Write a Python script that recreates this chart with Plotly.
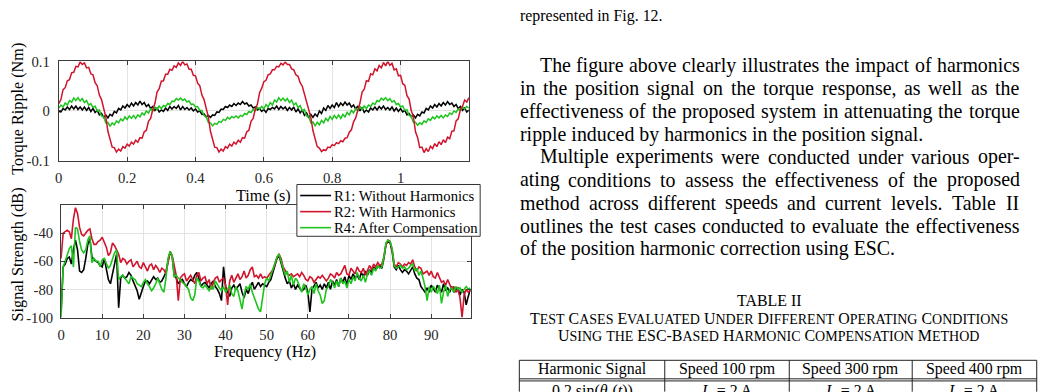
import plotly.graph_objects as go

FIG_W, FIG_H = 1043, 392

# ---------------- data ----------------
time_step_s = 0.00625
time_s = [round(i * time_step_s, 5) for i in range(193)]

# torque ripple in milli-Nm
torque_r1_mNm = [
    -1, -2, 5, 2, 8, 3, 10, 4, 10, 3, 8, 2, 8, 1, 7, -1, 5, -3, 1, -8, -5, -13, -8, -14, -7, -10, -1, -4, 5, 2,
    10, 6, 13, 8, 16, 10, 17, 12, 20, 13, 17, 9, 13, 5, 9, 1, 6, -2,
    2, -1, 6, 1, 9, 4, 9, 5, 11, 2, 9, 3, 7, 2, 6, 0, 4, -2, 0, -7, -6, -12, -9, -13, -8, -9, -2, -3, 4, 3,
    9, 7, 12, 9, 15, 11, 16, 13, 19, 14, 16, 10, 12, 6, 8, 2, 5, -1,
    3, -3, 5, 3, 7, 4, 10, 3, 9, 4, 8, 1, 7, 2, 8, -2, 4, -4, 2, -9, -4, -14, -7, -13, -6, -11, 0, -5, 6, 1,
    11, 5, 12, 7, 17, 9, 16, 11, 18, 12, 16, 8, 12, 4, 10, 0, 7, -3,
    2, -2, 6, 2, 8, 2, 9, 4, 10, 3, 7, 2, 8, 0, 6, -1, 5, -2, 1, -8, -5, -12, -8, -14, -7, -10, -2, -4, 5, 2,
    10, 6, 13, 8, 15, 10, 17, 12, 19, 13, 16, 9, 13, 5, 9, 1, 6, -2,
    2]
torque_r2_mNm = [
    15, 23, 43, 47, 61, 63, 77, 78, 90, 89, 99, 94,
    97, 87, 88, 75, 73, 57, 51, 32, 23, 2, -12, -41, -55, -73, -74, -83, -77, -81, -72, -75, -67, -71, -63, -67,
    -59, -63, -54, -55, -42, -39, -21, -15,
    3, 15, 38, 45, 60, 61, 74, 74, 84, 82, 91, 88, 97, 92, 100, 93, 95, 84, 84, 72, 71, 56, 51, 32, 23, 2,
    -12, -41, -55, -73, -74, -83, -77, -81, -72, -75, -67, -71, -63, -67, -59, -63, -54, -55, -42, -39, -21, -15,
    4, 14, 37, 46, 59, 62, 73, 75, 83, 83, 90, 89, 96, 93, 99, 94, 94, 85, 83, 73, 70, 57, 50, 33, 22, 3,
    -13, -40, -56, -72, -75, -82, -78, -80, -73, -74, -68, -70, -64, -66, -60, -62, -55, -54, -43, -38, -22, -14,
    2, 16, 38, 44, 61, 60, 75, 73, 85, 81, 92, 87, 98, 91, 100, 92, 96, 83, 85, 71, 72, 55, 52, 31, 24, 1,
    -11, -42, -54, -74, -73, -84, -76, -82, -71, -76, -66, -72, -62, -68, -58, -64, -53, -56, -41, -40, -20, -16,
    3, 9, 22, 18, 27]
torque_r4_mNm = [
    6, 12, 8, 16, 12, 21, 18, 26, 21, 27, 20, 25, 17, 21, 12, 15, 7, 10, 0, 2, -10, -11, -24, -23, -31, -24,
    -28, -20, -24, -16, -20, -12, -17, -10, -15, -9, -15, -8, -12, -4, -8, 0, -4, 4, 0, 8, 3, 10,
    5, 11, 9, 15, 13, 20, 19, 25, 22, 26, 21, 24, 18, 20, 13, 14, 8, 9, 1, 1, -9, -12, -23, -24, -30, -25,
    -27, -21, -23, -17, -19, -13, -16, -11, -14, -10, -14, -9, -11, -5, -7, -1, -3, 3, 1, 7, 4, 9,
    4, 13, 8, 17, 12, 22, 18, 27, 21, 26, 20, 25, 17, 22, 12, 16, 7, 11, 0, 3, -10, -10, -24, -22, -30, -23,
    -28, -19, -24, -15, -20, -11, -17, -9, -15, -8, -15, -7, -12, -3, -8, 1, -4, 5, 0, 9, 3, 10,
    5, 12, 9, 16, 13, 21, 19, 26, 22, 27, 21, 25, 18, 21, 13, 15, 8, 10, 1, 2, -9, -11, -23, -23, -29, -24,
    -27, -20, -23, -16, -19, -12, -16, -10, -14, -9, -14, -8, -11, -4, -7, 0, -3, 4, 1, 8, 4, 9,
    6]

freq_step_hz = 0.5
freq_hz = [i * freq_step_hz for i in range(200)]

spec_r1_db = [
    -96, -64, -62, -58, -57, -62, -52, -45, -52, -67, -68, -66, -58, -48, -44, -57, -59, -60, -61, -63,
    -64, -58, -66, -73, -76, -70, -62, -55, -93, -72, -70, -72, -71, -68, -70, -74, -78, -81, -87, -82,
    -78, -74, -74, -76, -73, -71, -73, -72, -75, -74, -71, -68, -60, -54, -56, -70, -72, -76, -74, -73,
    -76, -78, -75, -73, -74, -70, -68, -72, -78, -76, -75, -77, -79, -76, -74, -78, -80, -83, -88, -64,
    -78, -82, -85, -79, -77, -80, -78, -76, -82, -86, -80, -83, -78, -75, -80, -77, -75, -78, -76, -77,
    -78, -75, -73, -68, -63, -58, -56, -62, -68, -72, -76, -74, -79, -76, -80, -77, -79, -81, -80, -77,
    -82, -96, -80, -77, -75, -79, -77, -80, -76, -79, -75, -80, -74, -77, -73, -78, -72, -75, -71, -77,
    -70, -73, -69, -72, -70, -73, -68, -71, -67, -70, -66, -68, -64, -66, -64, -63, -65, -58, -48, -46,
    -47, -53, -64, -66, -63, -66, -68, -66, -67, -69, -66, -64, -69, -72, -73, -78, -80, -82, -79, -82,
    -77, -80, -82, -77, -80, -82, -76, -81, -79, -82, -78, -82, -80, -79, -84, -80, -82, -91, -85, -80]
spec_r2_db = [
    -58, -40, -39, -38, -39, -44, -30, -22, -26, -36, -41, -42, -40, -38, -37, -44, -48, -48, -46, -45,
    -43, -46, -50, -56, -54, -47, -49, -52, -55, -61, -58, -59, -62, -60, -59, -64, -62, -60, -64, -65,
    -61, -64, -67, -63, -62, -66, -63, -65, -68, -65, -66, -69, -60, -53, -56, -64, -70, -88, -72, -70,
    -69, -74, -72, -70, -73, -76, -70, -68, -74, -72, -71, -76, -73, -80, -75, -72, -71, -75, -73, -72,
    -77, -91, -74, -70, -75, -72, -69, -73, -71, -67, -72, -70, -66, -64, -71, -70, -72, -69, -72, -71,
    -72, -70, -68, -66, -62, -57, -55, -58, -64, -67, -69, -70, -69, -71, -70, -69, -71, -68, -70, -73,
    -74, -71, -72, -75, -73, -71, -72, -70, -72, -74, -72, -69, -70, -72, -68, -70, -69, -66, -63, -69,
    -70, -65, -67, -69, -64, -67, -68, -65, -70, -67, -63, -66, -62, -64, -61, -63, -62, -57, -48, -45,
    -46, -52, -62, -64, -61, -62, -64, -62, -63, -61, -62, -59, -64, -67, -64, -65, -69, -68, -67, -70,
    -67, -71, -72, -68, -71, -75, -74, -77, -73, -76, -80, -78, -82, -80, -86, -100, -84, -80, -82, -81]
spec_r4_db = [
    -100, -64, -60, -56, -51, -49, -64, -36, -37, -46, -52, -54, -52, -45, -42, -61, -58, -60, -60, -64,
    -59, -58, -62, -65, -63, -58, -54, -52, -73, -71, -70, -72, -74, -76, -71, -72, -73, -76, -77, -78,
    -75, -73, -76, -78, -81, -79, -76, -72, -76, -80, -82, -72, -58, -53, -56, -71, -70, -72, -73, -75,
    -76, -78, -80, -86, -88, -84, -72, -74, -78, -79, -77, -79, -81, -78, -80, -74, -77, -79, -81, -78,
    -82, -80, -77, -83, -85, -78, -81, -88, -94, -84, -78, -80, -76, -82, -86, -90, -94, -96, -84, -76,
    -72, -74, -70, -66, -62, -57, -55, -60, -65, -70, -67, -75, -70, -77, -72, -74, -78, -82, -76, -79,
    -84, -80, -78, -83, -76, -81, -84, -90, -88, -80, -78, -73, -75, -79, -74, -78, -72, -76, -74, -79,
    -73, -76, -71, -74, -68, -72, -74, -70, -75, -69, -67, -70, -65, -67, -63, -65, -64, -57, -47, -45,
    -46, -51, -63, -65, -64, -63, -65, -64, -66, -65, -63, -62, -67, -65, -70, -67, -72, -78, -88, -78,
    -82, -78, -80, -83, -77, -90, -82, -77, -85, -80, -79, -82, -78, -80, -79, -82, -80, -78, -80, -79]

series_names = ["R1: Without Harmonics", "R2: With Harmonics", "R4: After Compensation"]
series_colors = ["#000000", "#d0142c", "#1dc41d"]

time_ticks = [0, 0.2, 0.4, 0.6, 0.8, 1]
time_tick_labels = ["0", "0.2", "0.4", "0.6", "0.8", "1"]
torque_ticks = [-0.1, 0, 0.1]
torque_tick_labels = ["-0.1", "0", "0.1"]
freq_ticks = [0, 10, 20, 30, 40, 50, 60, 70, 80, 90]
freq_tick_labels = ["0", "10", "20", "30", "40", "50", "60", "70", "80", "90"]
db_ticks = [-100, -80, -60, -40]
db_tick_labels = ["-100", "-80", "-60", "-40"]

caption_tail = "represented in Fig. 12."
body_lines = [
    "The figure above clearly illustrates the impact of harmonics",
    "in the position signal on the torque response, as well as the",
    "effectiveness of the proposed system in attenuating the torque",
    "ripple induced by harmonics in the position signal.",
    "Multiple experiments were conducted under various oper-",
    "ating conditions to assess the effectiveness of the proposed",
    "method across different speeds and current levels. Table II",
    "outlines the test cases conducted to evaluate the effectiveness",
    "of the position harmonic correction using ESC.",
]
table_label = "TABLE II"
table_caption = ["Test Cases Evaluated Under Different Operating Conditions",
                 "Using the ESC-Based Harmonic Compensation Method"]
table_header = ["Harmonic Signal", "Speed 100 rpm", "Speed 300 rpm", "Speed 400 rpm"]
table_row1 = ["0.2 sin(<i>θ<sub>e</sub></i>(<i>t</i>))", "<i>I<sub>q</sub></i> = 2 A",
              "<i>I<sub>q</sub></i> = 2 A", "<i>I<sub>q</sub></i> = 2 A"]

# ---------------- helpers ----------------
def X(p):
    return p / FIG_W


def Y(p):
    return 1 - p / FIG_H


SERIF = "Liberation Serif"
CHAR_W = dict(zip("abcdefghijklmnopqrstuvwxyz",
                  [444, 500, 444, 500, 444, 333, 500, 500, 278, 278, 500, 278, 778,
                   500, 500, 500, 500, 333, 389, 278, 500, 500, 722, 500, 500, 444]))
CHAR_W.update(dict(zip("ABCDEFGHIJKLMNOPQRSTUVWXYZ",
                       [722, 667, 667, 722, 611, 556, 722, 722, 333, 389, 722, 611, 889,
                        722, 722, 556, 722, 667, 556, 611, 722, 722, 944, 722, 722, 611])))
CHAR_W.update({c: 500 for c in "0123456789"})
CHAR_W.update({" ": 250, ".": 250, ",": 250, "-": 333, ":": 278, "(": 333, ")": 333})


def text_w(s, size):
    return sum(CHAR_W.get(ch, 500) for ch in s) * size / 1000.0


annotations = []
shapes = []


def ann(text, x, y, size, xanchor="left", yanchor="middle", angle=0, color="#000000"):
    annotations.append(dict(text=text, x=X(x), y=Y(y), xref="paper", yref="paper",
                            showarrow=False, xanchor=xanchor, yanchor=yanchor,
                            textangle=angle, borderpad=0,
                            font=dict(family=SERIF, size=size, color=color)))


def hline(x0, x1, y, w=1.0, color="#222222"):
    shapes.append(dict(type="line", xref="paper", yref="paper", x0=X(x0), x1=X(x1),
                       y0=Y(y), y1=Y(y), line=dict(color=color, width=w), layer="above"))


def vline(x, y0, y1, w=1.0, color="#222222"):
    shapes.append(dict(type="line", xref="paper", yref="paper", x0=X(x), x1=X(x),
                       y0=Y(y0), y1=Y(y1), line=dict(color=color, width=w), layer="above"))


# ---------------- figure ----------------
fig = go.Figure()

for idx in [0, 2, 1]:
    vals = [torque_r1_mNm, torque_r2_mNm, torque_r4_mNm][idx]
    fig.add_trace(go.Scatter(x=time_s, y=[v / 1000.0 for v in vals], mode="lines",
                             name=series_names[idx], showlegend=False,
                             line=dict(color=series_colors[idx], width=1.5),
                             xaxis="x", yaxis="y"))
for idx in [0, 1, 2]:
    vals = [spec_r1_db, spec_r2_db, spec_r4_db][idx]
    fig.add_trace(go.Scatter(x=freq_hz, y=vals, mode="lines",
                             name=series_names[idx], showlegend=False,
                             line=dict(color=series_colors[idx], width=1.6),
                             xaxis="x2", yaxis="y2"))

axis_common = dict(showline=True, linecolor="#3c3c3c", linewidth=1, mirror="ticks",
                   ticks="inside", ticklen=4, tickwidth=1, tickcolor="#3c3c3c",
                   showgrid=True, gridcolor="#e3e3e3", gridwidth=1, zeroline=False,
                   tickfont=dict(family=SERIF, size=14.7, color="#262626"))

fig.update_layout(
    width=FIG_W, height=FIG_H,
    margin=dict(l=0, r=0, t=0, b=0),
    paper_bgcolor="white", plot_bgcolor="white",
    showlegend=False,
    xaxis=dict(domain=[X(55.0), X(466.7)], range=[0, 1.2], anchor="y", ticklabelstandoff=4,
               tickmode="array", tickvals=time_ticks, ticktext=time_tick_labels, **axis_common),
    yaxis=dict(domain=[Y(159.0), Y(55.7)], range=[-0.1, 0.1], anchor="x", ticklabelstandoff=5,
               tickmode="array", tickvals=torque_ticks, ticktext=torque_tick_labels, **axis_common),
    xaxis2=dict(domain=[X(57.3), X(468.5)], range=[0, 99.6], anchor="y2", ticklabelstandoff=4,
                tickmode="array", tickvals=freq_ticks, ticktext=freq_tick_labels, **axis_common),
    yaxis2=dict(domain=[Y(322.7), Y(205.3)], range=[-100, -20], anchor="x2", ticklabelstandoff=4,
                tickmode="array", tickvals=db_ticks, ticktext=db_tick_labels, **axis_common),
)

# axis titles
ann("Time (s)", 260.5, 195.5, 16.2, xanchor="center")
ann("Frequency (Hz)", 262.5, 358.5, 16.2, xanchor="center")
ann("Torque Ripple (Nm)", 14, 105, 16.2, xanchor="center", angle=-90)
ann("Signal Strength (dB)", 14, 257, 16.2, xanchor="center", angle=-90)

# legend (drawn)
shapes.append(dict(type="rect", xref="paper", yref="paper", x0=X(294), x1=X(478),
                   y0=Y(238), y1=Y(184), fillcolor="white",
                   line=dict(color="#333333", width=1), layer="above"))
for k, ly in enumerate([195.5, 212.3, 229.0]):
    hline(297.3, 328.3, ly, w=1.6, color=series_colors[k])
    ann(series_names[k], 330.5, ly, 14.7)

# caption tail of the previous figure (footnote size)
CAP = 15.9
ann(caption_tail, 516.7, 10.0 - 1.6, CAP)

# body text (justified column)
BODY = 19.9
col_left, col_right = 516.7, 1018.3
line_y = [61.7, 85.6, 109.5, 133.4, 157.3, 181.2, 205.1, 229.0, 252.9]
indent_lines = {0, 4}
ragged_lines = {3, 8}
for n, line in enumerate(body_lines):
    yc = line_y[n] - 2.0
    left = col_left + (BODY if n in indent_lines else 0)
    if n in ragged_lines:
        ann(line, left, yc, BODY)
        continue
    words = line.split(" ")
    widths = [text_w(w, BODY) for w in words]
    gap = (col_right - left - sum(widths)) / (len(words) - 1)
    x = left
    for w, wd in zip(words, widths):
        ann(w, x, yc, BODY)
        x += wd + gap

# table caption
TAB = 15.9
SC = 14.0


def small_caps(s):
    out = ""
    run = ""
    for ch in s:
        if ch.islower():
            run += ch.upper()
        else:
            if run:
                out += '<span style="font-size:%spx">%s</span>' % (SC, run)
                run = ""
            out += ch
    if run:
        out += '<span style="font-size:%spx">%s</span>' % (SC, run)
    return out


col_mid = (col_left + col_right) / 2
ann(table_label, col_mid, 305, TAB, xanchor="center")
ann(small_caps(table_caption[0]), col_mid, 323.3, TAB, xanchor="center")
ann(small_caps(table_caption[1]), col_mid, 341.7, TAB, xanchor="center")

# table grid
tx = [517.3, 663.3, 788.3, 911.7, 1036.7]
hline(tx[0], tx[-1], 367.3)
hline(tx[0], tx[-1], 386.6)
hline(tx[0], tx[-1], 388.8)
for xv in tx:
    vline(xv, 367.3, 400)
for c in range(4):
    cx = (tx[c] + tx[c + 1]) / 2
    ann(table_header[c], cx, 376.2, TAB, xanchor="center")
    ann(table_row1[c], cx, 399.5, TAB, xanchor="center")

fig.update_layout(annotations=annotations, shapes=shapes)
fig.write_html("out.html")
